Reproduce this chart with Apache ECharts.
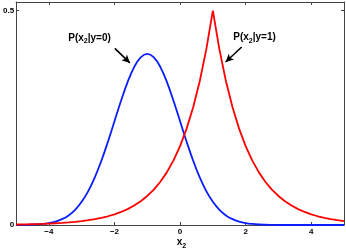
<!DOCTYPE html>
<html>
<head>
<meta charset="utf-8">
<script src="https://cdn.jsdelivr.net/npm/echarts@6/dist/echarts.min.js"></script>
<style>html,body{margin:0;padding:0;background:#fff}#c{width:346px;height:249px}</style>
</head>
<body>
<div id="c"></div>
<script>
var xs = [-5.0,-4.8,-4.6,-4.4,-4.2,-4.0,-3.8,-3.6,-3.4,-3.2,-3.0,-2.8,-2.6,-2.4,-2.2,-2.0,-1.8,-1.6,-1.4,-1.2,-1.0,-0.8,-0.6,-0.4,-0.2,0.0,0.2,0.4,0.6,0.8,1.0,1.2,1.4,1.6,1.8,2.0,2.2,2.4,2.6,2.8,3.0,3.2,3.4,3.6,3.8,4.0,4.2,4.4,4.6,4.8,5.0];
var blueY = [0.0001,0.0003,0.0006,0.0012,0.0024,0.0044,0.0079,0.0136,0.0224,0.0355,0.0540,0.0790,0.1109,0.1497,0.1942,0.2420,0.2897,0.3332,0.3683,0.3910,0.3989,0.3910,0.3683,0.3332,0.2897,0.2420,0.1942,0.1497,0.1109,0.0790,0.0540,0.0355,0.0224,0.0136,0.0079,0.0044,0.0024,0.0012,0.0006,0.0003,0.0001,0,0,0,0,0,0,0,0,0,0];
var redY = [0.0012,0.0015,0.0018,0.0022,0.0027,0.0034,0.0041,0.0050,0.0061,0.0075,0.0092,0.0112,0.0137,0.0167,0.0204,0.0249,0.0304,0.0371,0.0454,0.0554,0.0677,0.0826,0.1009,0.1233,0.1506,0.1839,0.2247,0.2744,0.3352,0.4094,0.5000,0.4094,0.3352,0.2744,0.2247,0.1839,0.1506,0.1233,0.1009,0.0826,0.0677,0.0554,0.0454,0.0371,0.0304,0.0249,0.0204,0.0167,0.0137,0.0112,0.0092];
var xTicks = [-4,-2,0,2,4];
var yTicks = [0,0.5];
var annotations = [['P(x','2','|y=0)'], ['P(x','2','|y=1)']];
var axisName = ['x','2',''];
var arrow0 = [[-1.99,0.412],[-1.53,0.378]];
var arrow1 = [[1.88,0.415],[1.39,0.380]];

function pairs(a,b){var r=[];for(var i=0;i<a.length;i++)r.push([a[i],b[i]]);return r;}
function fmt(v){ if (Math.abs(v)<1e-9) return '0'; return v<0 ? '\u2212'+Math.abs(v) : String(v); }

var FAM = 'Liberation Sans, Arial, sans-serif';
var axisCol = '#444';
var lblFont = {color:'#000', fontWeight:'bold', fontSize:8, fontFamily:FAM};

var mctx = document.createElement('canvas').getContext('2d');
function tw(t, size){ mctx.font = 'bold ' + size + 'px ' + FAM; return mctx.measureText(t).width; }
function subText(parts, cx, top){
  var w0 = tw(parts[0],10), w1 = tw(parts[1],7), w2 = tw(parts[2],10);
  var x0 = cx - (w0+w1+w2)/2;
  var base = {fontWeight:'bold', fontFamily:FAM, fill:'#000', verticalAlign:'top', align:'left'};
  var els = [
    {type:'text', style:Object.assign({x:x0, y:top, text:parts[0], fontSize:10}, base)},
    {type:'text', style:Object.assign({x:x0+w0, y:top+5, text:parts[1], fontSize:7}, base)}
  ];
  if (parts[2]) els.push({type:'text', style:Object.assign({x:x0+w0+w1, y:top, text:parts[2], fontSize:10}, base)});
  return els;
}

var chart = echarts.init(document.getElementById('c'), null, {renderer:'canvas'});
chart.setOption({
  animation:false,
  backgroundColor:'#fff',
  grid:{left:14, right:2, top:2, bottom:24},
  xAxis:[{
    type:'value', min:-5, max:5, position:'bottom',
    axisLine:{show:true, onZero:false, lineStyle:{color:axisCol, width:1}},
    axisTick:{show:true, inside:true, length:3, customValues:xTicks, lineStyle:{color:axisCol}},
    axisLabel:{customValues:xTicks, formatter:fmt, margin:3, ...lblFont},
    splitLine:{show:false}
  },{
    type:'value', min:-5, max:5, position:'top',
    axisLine:{show:true, onZero:false, lineStyle:{color:axisCol, width:1}},
    axisTick:{show:true, inside:true, length:3, customValues:xTicks, lineStyle:{color:axisCol}},
    axisLabel:{show:false}, splitLine:{show:false}
  }],
  yAxis:[{
    type:'value', min:0, max:0.52, position:'left',
    axisLine:{show:true, onZero:false, lineStyle:{color:axisCol, width:1}},
    axisTick:{show:true, inside:true, length:3, customValues:yTicks, lineStyle:{color:axisCol}},
    axisLabel:{customValues:yTicks, formatter:fmt, margin:2, ...lblFont},
    splitLine:{show:false}
  },{
    type:'value', min:0, max:0.52, position:'right',
    axisLine:{show:true, onZero:false, lineStyle:{color:axisCol, width:1}},
    axisTick:{show:true, inside:true, length:3, customValues:yTicks, lineStyle:{color:axisCol}},
    axisLabel:{show:false}, splitLine:{show:false}
  }],
  series:[{
    type:'line', data:pairs(xs,blueY), showSymbol:false, smooth:0.4,
    lineStyle:{color:'#0a1eff', width:1.8}, z:3,
    markLine:{silent:true, symbol:['none','arrow'], symbolSize:[6,8], label:{show:false},
      lineStyle:{color:'#000', width:1.6, type:'solid'},
      data:[[{coord:arrow0[0]},{coord:arrow0[1]}],[{coord:arrow1[0]},{coord:arrow1[1]}]]}
  },{
    type:'line', data:pairs(xs,redY), showSymbol:false, smooth:false,
    lineStyle:{color:'#ff0000', width:1.8}, z:4
  }],
  graphic: [].concat(
    subText(annotations[0], 89.5, 33),
    subText(annotations[1], 254.5, 32.5),
    subText(axisName, 181.5, 237.5)
  )
});
</script>
</body>
</html>
